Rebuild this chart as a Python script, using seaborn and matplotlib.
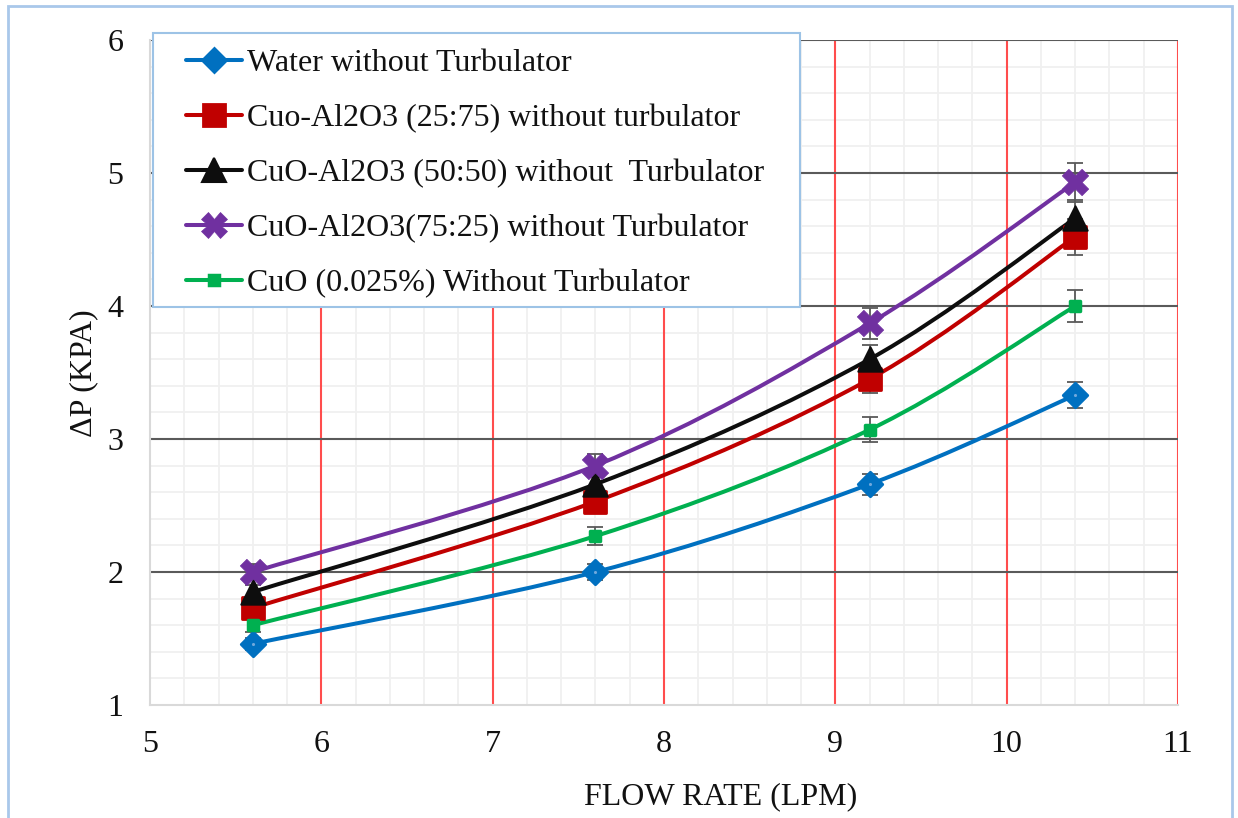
import numpy as np
import matplotlib
matplotlib.use("Agg")
import matplotlib.pyplot as plt
from matplotlib.path import Path
from matplotlib.patches import PathPatch, Rectangle
from matplotlib.lines import Line2D
import seaborn as sns

# ---- data -------------------------------------------------------------
flow_rate = [5.6, 7.6, 9.2, 10.4]

water = [1.46, 2.00, 2.66, 3.33]
cuo_al2o3_25_75 = [1.73, 2.53, 3.45, 4.52]
cuo_al2o3_50_50 = [1.85, 2.66, 3.60, 4.66]
cuo_al2o3_75_25 = [2.00, 2.80, 3.87, 4.93]
cuo_0025 = [1.60, 2.27, 3.07, 4.00]

error_percent = 0.03  # percentage error bars

series_labels = [
    "Water without Turbulator",
    "Cuo-Al2O3 (25:75) without turbulator",
    "CuO-Al2O3 (50:50) without  Turbulator",
    "CuO-Al2O3(75:25) without Turbulator",
    "CuO (0.025%) Without Turbulator",
]

x_ticks = [5, 6, 7, 8, 9, 10, 11]
y_ticks = [1, 2, 3, 4, 5, 6]

# ---- styling ----------------------------------------------------------
sns.set_theme(style="white")
plt.rcParams["font.family"] = ["Liberation Serif", "DejaVu Serif"]

FS = 23
styles = [
    dict(color="#0070C0", marker="D", ms=12.5, mew=2.0),
    dict(color="#C00000", marker="s", ms=16.0, mew=2.0),
    dict(color="#0D0D0D", marker="^", ms=17.5, mew=1.5),
    dict(color="#7030A0", marker="X", ms=19.0, mew=0.5),
    dict(color="#00B050", marker="s", ms=7.5, mew=2.5),
]
values = [water, cuo_al2o3_25_75, cuo_al2o3_50_50, cuo_al2o3_75_25, cuo_0025]

fig = plt.figure(figsize=(12.38, 8.18), dpi=100)
ax = fig.add_axes([150 / 1238, 1 - 705 / 818, 1028 / 1238, 665 / 818])
ax.set_facecolor("white")


def smooth_path(xs, ys):
    """Cubic Bezier path through the points (Catmull-Rom style smoothing)."""
    pts = np.column_stack([xs, ys]).astype(float)
    n = len(pts)
    verts = [pts[0]]
    codes = [Path.MOVETO]
    for i in range(n - 1):
        p0 = pts[i - 1] if i > 0 else pts[i]
        p1 = pts[i]
        p2 = pts[i + 1]
        p3 = pts[i + 2] if i + 2 < n else pts[i + 1]
        c1 = p1 + (p2 - p0) / 6.0
        c2 = p2 - (p3 - p1) / 6.0
        verts += [c1, c2, p2]
        codes += [Path.CURVE4] * 3
    return Path(verts, codes)


# minor grid
for xv in np.arange(5.2, 11.0, 0.2):
    if abs(xv - round(xv)) > 1e-6:
        ax.axvline(xv, color="#F0F0F0", lw=1.3, zorder=0)
for yv in np.arange(1.2, 6.0, 0.2):
    if abs(yv - round(yv)) > 1e-6:
        ax.axhline(yv, color="#F0F0F0", lw=1.3, zorder=0)
# major grid
for xv in x_ticks[1:]:
    ax.axvline(xv, color="#FF4D4D", lw=1.5, zorder=0.5)
for yv in y_ticks[1:]:
    ax.axhline(yv, color="#5A5A5A", lw=1.5, zorder=0.6)

for vals, st in zip(values, styles):
    patch = PathPatch(smooth_path(flow_rate, vals), facecolor="none",
                      edgecolor=st["color"], lw=2.9, capstyle="round",
                      zorder=2)
    ax.add_patch(patch)
    err = [v * error_percent for v in vals]
    ax.errorbar(flow_rate, vals, yerr=err, fmt="none", ecolor="#595959",
                elinewidth=1.3, capsize=6, capthick=1.3, zorder=3)
    sns.scatterplot(x=flow_rate, y=vals, marker=st["marker"],
                    s=st["ms"] ** 2, color=st["color"],
                    edgecolor=st["color"], linewidth=st["mew"], ax=ax,
                    zorder=4, legend=False)
    if st["marker"] == "D":
        sns.scatterplot(x=flow_rate, y=vals, marker="o", s=5,
                        color="#6FA8DC", linewidth=0, ax=ax, zorder=5,
                        legend=False)

ax.set_xlim(5, 11)
ax.set_ylim(1, 6)
ax.set_xticks(x_ticks)
ax.set_yticks(y_ticks)
ax.set_xticklabels([str(v) for v in x_ticks], fontsize=FS)
ax.set_yticklabels([str(v) for v in y_ticks], fontsize=FS)
ax.tick_params(axis="x", length=0, pad=18, colors="#111111")
ax.tick_params(axis="y", length=0, pad=19, colors="#111111")

for side in ["top", "right"]:
    ax.spines[side].set_visible(False)
for side in ["left", "bottom"]:
    ax.spines[side].set_color("#D9D9D9")
    ax.spines[side].set_linewidth(1.5)

ax.set_xlabel("FLOW RATE (LPM)", fontsize=FS, color="#111111")
ax.set_ylabel("ΔP (KPA)", fontsize=FS, color="#111111")
ax.xaxis.set_label_coords((721 - 150) / 1028, -(782 - 705) / 665)
ax.yaxis.set_label_coords(-(150 - 98) / 1028, (705 - 373) / 665)

# legend box
ax.add_patch(Rectangle((153 / 1238, 1 - 307 / 818), 647 / 1238, 274 / 818,
                       transform=fig.transFigure, facecolor="white",
                       edgecolor="#9DC3E6", lw=1.5, clip_on=False,
                       zorder=6))
handles = [Line2D([], [], color=st["color"], lw=2.9, marker=st["marker"],
                  ms=st["ms"] * 0.95, mew=st["mew"],
                  markeredgecolor=st["color"])
           for st in styles]
leg = ax.legend(handles, series_labels, loc="upper left",
                bbox_to_anchor=(186 / 1238, 1 - 49 / 818),
                bbox_transform=fig.transFigure, frameon=False,
                fontsize=FS, handlelength=1.75, handletextpad=0.15,
                labelspacing=0.8, borderpad=0, borderaxespad=0)
leg.set_zorder(7)
for t in leg.get_texts():
    t.set_color("#111111")

# outer chart border
fig.add_artist(Rectangle((8 / 1238, -0.02), 1224 / 1238, 1.02 - 6 / 818,
                         transform=fig.transFigure, facecolor="none",
                         edgecolor="#A9C8EA", lw=2.0))

fig.savefig("out.png", dpi=100, facecolor="white")
